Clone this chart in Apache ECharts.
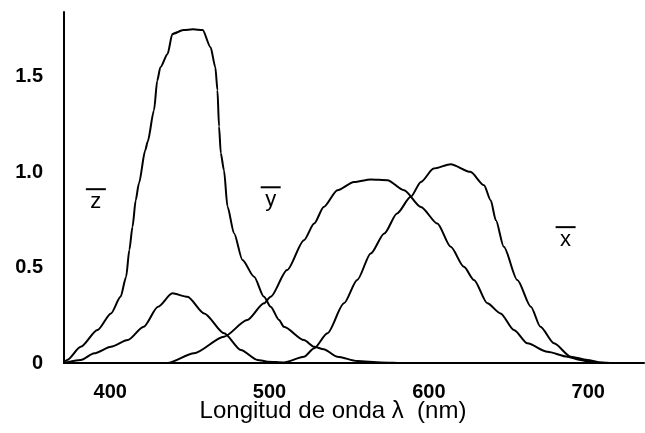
<!DOCTYPE html>
<html><head><meta charset="utf-8">
<script src="https://cdn.jsdelivr.net/npm/echarts@6/dist/echarts.min.js"></script>
<style>html,body{margin:0;padding:0;background:#fff}#c{width:645px;height:433px}</style>
</head><body><div id="c"></div>
<script>
// wavelengths (nm) and values
const zbarNm  = [371,373,381.5,392,400.5,406.5,410,412,414,416,418,422,423.5,427.5,429.5,431.5,436,439,446,452,458,463,466,467.3,468.3,469.4,471.4,473.6,477.7,483,490.3,496.5,500.7,506,509,521.6,528,534,542.6,555,570,585,735];
const zbarVal = [0,0.016,0.085,0.173,0.26,0.347,0.452,0.592,0.714,0.853,0.941,1.115,1.16,1.325,1.48,1.55,1.62,1.725,1.745,1.75,1.745,1.655,1.55,1.43,1.24,1.10,1.01,0.82,0.68,0.54,0.452,0.347,0.295,0.225,0.19,0.12,0.085,0.072,0.033,0.01,0.003,0,0];

const xbarNm  = [371,381.5,390,400.5,411,421,430,439,448.5,459,471.5,482,492.5,499,509,521.6,528,536.3,546.7,555,563.5,572,580,588.6,595,603,613.7,626,634.6,638.8,642,647,655.5,664,670,678.5,689,699.4,708,715,735];
const xbarVal = [0,0.016,0.051,0.085,0.12,0.19,0.295,0.365,0.347,0.26,0.156,0.068,0.016,0.007,0.003,0.033,0.077,0.156,0.313,0.435,0.574,0.679,0.784,0.871,0.949,1.019,1.042,1.002,0.932,0.853,0.749,0.609,0.435,0.295,0.19,0.103,0.033,0.016,0.003,0,0];

const ybarNm  = [371,436,452.6,471.4,486,496.5,500.7,511,521.6,528,534,542.6,553,563.5,574,584.4,595,605.3,613.7,622,628.3,636.7,645,653.4,661.8,674.4,687,695,701.5,710,735];
const ybarVal = [0,0,0.051,0.138,0.225,0.313,0.347,0.487,0.644,0.731,0.818,0.906,0.949,0.962,0.958,0.906,0.818,0.731,0.609,0.504,0.435,0.313,0.26,0.173,0.103,0.059,0.033,0.016,0.005,0,0];

const xTickValues = [400,500,600,700];
const yTickValues = [0,0.5,1.0,1.5];
const axisTitle = 'Longitud de onda \u03bb  (nm)';
const curveLabelText = ['z','y','x'];
const curveLabelNm   = [391,500.7,685.8];
const curveLabelVal  = [0.843,0.853,0.644];

const FONT = 'Liberation Sans, Arial, sans-serif';
const pairs = (a,b) => a.map((v,i)=>[v,b[i]]);
const lineSeries = (name, nm, val) => ({
  name, type:'line', data: pairs(nm,val), showSymbol:false, symbol:'none',
  smooth:0.25, smoothMonotone:'x',
  lineStyle:{color:'#000', width:2}, silent:true, animation:false
});

const chart = echarts.init(document.getElementById('c'), null, {renderer:'canvas'});
chart.setOption({
  backgroundColor:'#fff',
  animation:false,
  grid:{left:64, right:1, top:12, bottom:70, containLabel:false},
  title:{text:axisTitle, left:333, top:399, textAlign:'center', padding:0,
    textStyle:{fontFamily:FONT, fontSize:24, fontWeight:'normal', color:'#000'}},
  xAxis:{type:'value', min:371, max:735,
    axisLine:{show:true, onZero:false, lineStyle:{color:'#000', width:2}},
    axisTick:{show:false},
    splitLine:{show:false},
    axisLabel:{customValues:xTickValues, margin:19, color:'#000', fontFamily:FONT, fontSize:20, fontWeight:'bold'}
  },
  yAxis:{type:'value', min:0, max:1.84,
    axisLine:{show:true, lineStyle:{color:'#000', width:2}},
    axisTick:{show:false},
    splitLine:{show:false},
    axisLabel:{customValues:yTickValues, margin:21, color:'#000', fontFamily:FONT, fontSize:20, fontWeight:'bold',
      formatter:v => v===0 ? '0' : v.toFixed(1)}
  },
  series:[
    lineSeries('z', zbarNm, zbarVal),
    lineSeries('x', xbarNm, xbarVal),
    lineSeries('y', ybarNm, ybarVal)
  ]
});

const g = [];
curveLabelText.forEach((t,i)=>{
  const p = chart.convertToPixel({gridIndex:0}, [curveLabelNm[i], curveLabelVal[i]]);
  g.push({type:'text', x:p[0], y:p[1], style:{text:t, fill:'#000', font:'22px '+FONT, align:'center', verticalAlign:'middle'}});
  g.push({type:'line', shape:{x1:p[0]-10, y1:p[1]-13, x2:p[0]+10, y2:p[1]-13}, style:{stroke:'#000', lineWidth:2}});
});
chart.setOption({graphic:g});
</script>
</body></html>
